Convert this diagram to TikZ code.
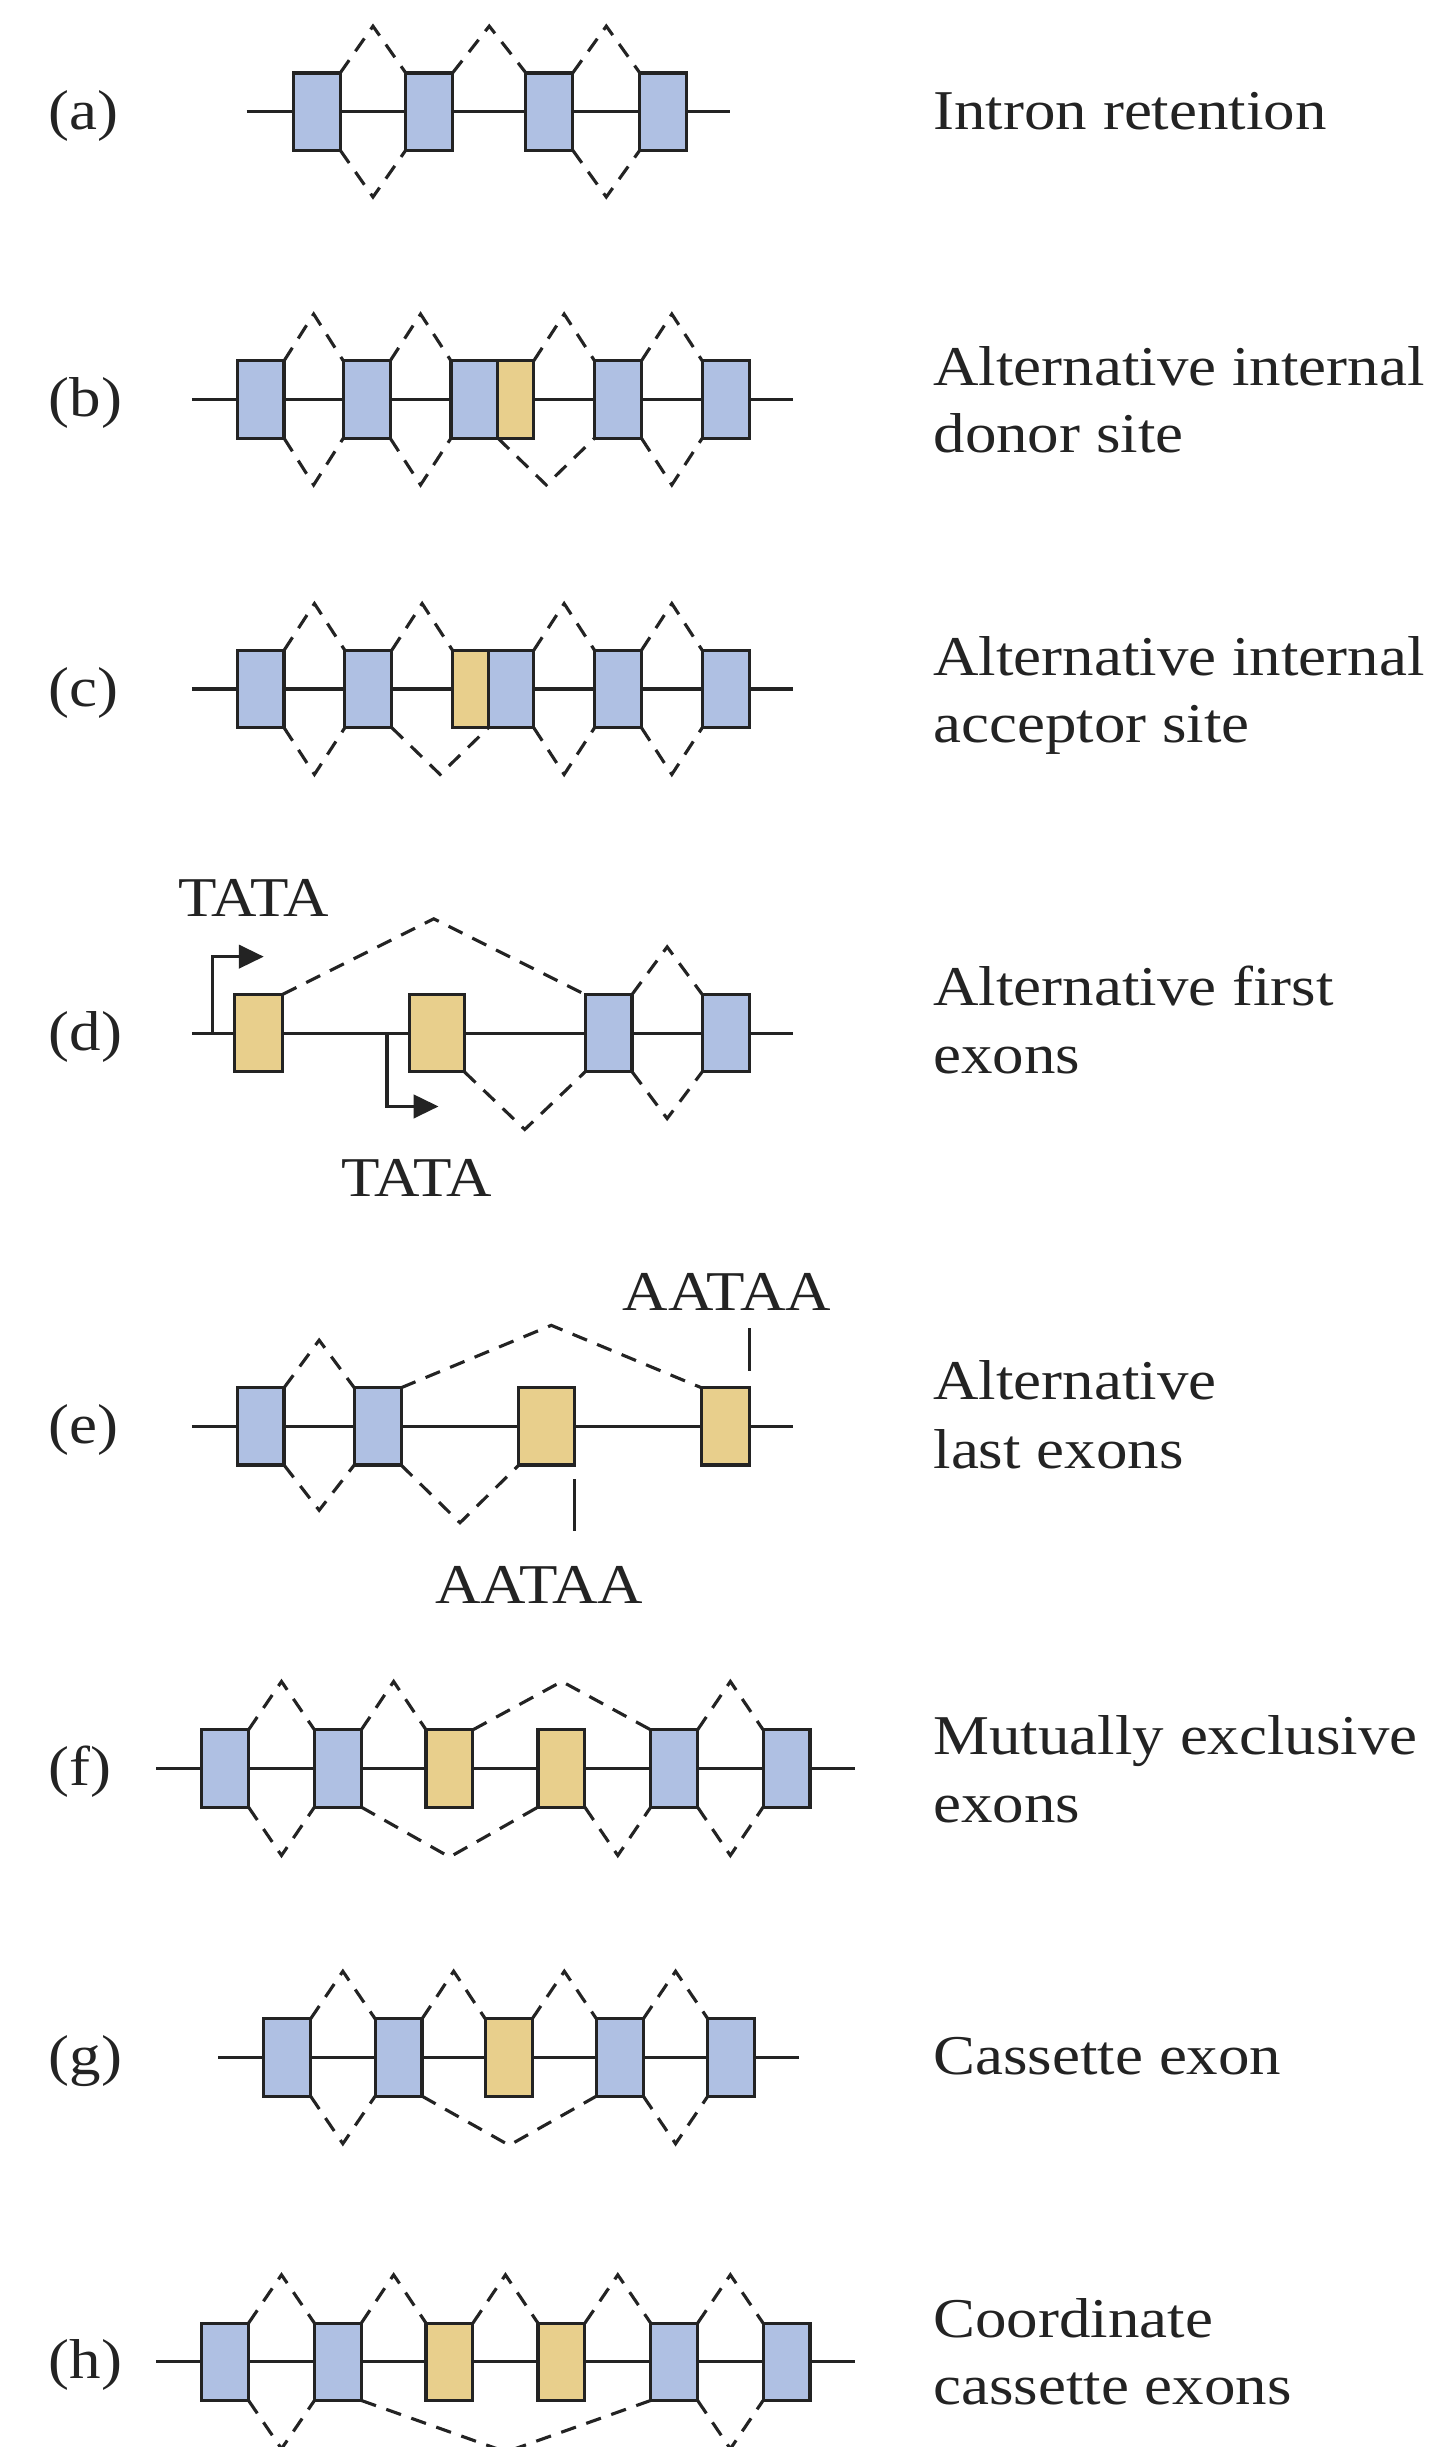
\documentclass[tikz,border=0pt]{standalone}
\usepackage{fontspec}
\setmainfont{Liberation Serif}[FakeStretch=1.12]
\usetikzlibrary{calc,arrows.meta}
\definecolor{exblue}{RGB}{175,192,227}
\definecolor{exyel}{RGB}{232,207,140}
\definecolor{ink}{RGB}{35,35,35}
\tikzset{
  exon/.style={draw=ink, line width=2pt, rectangle, inner sep=0pt, outer sep=0pt,
               minimum height=49.5pt, minimum width=30pt},
  bx/.style={exon, fill=exblue},
  yx/.style={exon, fill=exyel},
  intron/.style={draw=ink, line width=2pt},
  splice/.style={draw=ink, line width=2pt, dash pattern=on 10pt off 7pt},
  lab/.style={anchor=base west, inner sep=0pt, font=\fontsize{36}{43}\selectfont, text=ink},
  seq/.style={anchor=base, inner sep=0pt, font=\fontsize{36}{43}\selectfont, text=ink},
  tss/.style={intron, -{Triangle[length=16pt,width=15pt]}},
}
% dashed splice junction from #1 to #2, bending by #3 (negative = above)
\newcommand\spl[3]{\draw[splice] (#1) -- ($(#1)!0.5!(#2)+(0,#3)$) -- (#2);}
\begin{document}
\begin{tikzpicture}[x=1pt,y=-1pt]
\useasboundingbox (0,0) rectangle (917,1568);

% ---------------- (a) intron retention
\coordinate (aL) at (158,71.5); \coordinate (aR) at (468,71.5);
\draw[intron] (aL) -- (aR);
\node[bx] (a1) at (203,71.5) {};
\node[bx] (a2) at (275,71.5) {};
\node[bx] (a3) at (352,71.5) {};
\node[bx] (a4) at (425,71.5) {};
\spl{a1.north east}{a2.north west}{-30}
\spl{a2.north east}{a3.north west}{-30}
\spl{a3.north east}{a4.north west}{-30}
\spl{a1.south east}{a2.south west}{30}
\spl{a3.south east}{a4.south west}{30}
\node[lab] (la) at (31,83) {(a)};
\node[lab] (ta) at (598,83) {Intron retention};

% ---------------- (b) alternative internal donor site
\coordinate (bL) at (123,256); \coordinate (bR) at (508,256);
\draw[intron] (bL) -- (bR);
\node[bx] (b1) at (167,256) {};
\node[bx] (b2) at (235,256) {};
\node[bx] (b3) at (304,256) {};
\node[yx, minimum width=23pt] (b3y) at (330.5,256) {};
\node[bx] (b4) at (396,256) {};
\node[bx] (b5) at (465,256) {};
\spl{b1.north east}{b2.north west}{-30}
\spl{b2.north east}{b3.north west}{-30}
\spl{b3y.north east}{b4.north west}{-30}
\spl{b4.north east}{b5.north west}{-30}
\spl{b1.south east}{b2.south west}{30}
\spl{b2.south east}{b3.south west}{30}
\spl{b3.south east}{b4.south west}{30}
\spl{b4.south east}{b5.south west}{30}
\node[lab] (lb) at (31,267) {(b)};
\node[lab] (tb1) at (598,247) {Alternative internal};
\node[lab] (tb2) at (598,290) {donor site};

% ---------------- (c) alternative internal acceptor site
\coordinate (cL) at (123,441.5); \coordinate (cR) at (508,441.5);
\draw[intron] (cL) -- (cR);
\node[bx] (c1) at (167,441.5) {};
\node[bx] (c2) at (236,441.5) {};
\node[yx, minimum width=23pt] (c3y) at (301.5,441.5) {};
\node[bx, minimum width=29pt] (c3) at (327.5,441.5) {};
\node[bx] (c4) at (396,441.5) {};
\node[bx] (c5) at (465,441.5) {};
\spl{c1.north east}{c2.north west}{-30}
\spl{c2.north east}{c3y.north west}{-30}
\spl{c3.north east}{c4.north west}{-30}
\spl{c4.north east}{c5.north west}{-30}
\spl{c1.south east}{c2.south west}{30}
\spl{c2.south east}{c3.south west}{30}
\spl{c3.south east}{c4.south west}{30}
\spl{c4.south east}{c5.south west}{30}
\node[lab] (lc) at (31,452.5) {(c)};
\node[lab] (tc1) at (598,433) {Alternative internal};
\node[lab] (tc2) at (598,476) {acceptor site};

% ---------------- (d) alternative first exons
\coordinate (dL) at (123,662); \coordinate (dR) at (508,662);
\draw[intron] (dL) -- (dR);
\coordinate (p1) at (136.3,662); \coordinate (q1) at (169,613);
\coordinate (p2) at (248,662);   \coordinate (q2) at (281,709);
\draw[tss] (p1) |- (q1);
\draw[tss] (p2) |- (q2);
\node[yx, minimum width=31pt] (d1) at (165.5,662) {};
\node[yx, minimum width=35pt] (d2) at (280,662) {};
\node[bx] (d3) at (390,662) {};
\node[bx] (d4) at (465,662) {};
\spl{d1.north east}{d3.north west}{-48.5}
\spl{d3.north east}{d4.north west}{-30.5}
\spl{d2.south east}{d3.south west}{37}
\spl{d3.south east}{d4.south west}{30}
\node[seq] (tata1) at (162.5,587) {TATA};
\node[seq] (tata2) at (267,767) {TATA};
\node[lab] (ld) at (31,673) {(d)};
\node[lab] (td1) at (598,644) {Alternative first};
\node[lab] (td2) at (598,688) {exons};

% ---------------- (e) alternative last exons
\coordinate (eL) at (123,914); \coordinate (eR) at (508,914);
\draw[intron] (eL) -- (eR);
\node[bx] (e1) at (167,914) {};
\node[bx] (e2) at (242,914) {};
\node[yx, minimum width=35.5pt] (e3) at (350.25,914) {};
\node[yx, minimum width=31pt] (e4) at (465,914) {};
\spl{e1.north east}{e2.north west}{-30.5}
\spl{e2.north east}{e4.north west}{-40}
\spl{e1.south east}{e2.south west}{29}
\spl{e2.south east}{e3.south west}{37}
\draw[intron] (e4.north east) ++(0,-11) -- ++(0,-27);
\draw[intron] (e3.south east) ++(0,9) -- ++(0,33.5);
\node[seq] (pa1) at (465.7,839.5) {AATAA};
\node[seq] (pa2) at (345.5,1027.5) {AATAA};
\node[lab] (le) at (31,925) {(e)};
\node[lab] (te1) at (598,897) {Alternative};
\node[lab] (te2) at (598,941) {last exons};

% ---------------- (f) mutually exclusive exons
\coordinate (fL) at (100,1133.2); \coordinate (fR) at (548,1133.2);
\draw[intron] (fL) -- (fR);
\node[bx] (f1) at (144.25,1133.2) {};
\node[bx] (f2) at (216.5,1133.2) {};
\node[yx] (f3) at (288,1133.2) {};
\node[yx] (f4) at (359.75,1133.2) {};
\node[bx] (f5) at (432,1133.2) {};
\node[bx] (f6) at (504,1133.2) {};
\spl{f1.north east}{f2.north west}{-31}
\spl{f2.north east}{f3.north west}{-31}
\spl{f3.north east}{f5.north west}{-31}
\spl{f5.north east}{f6.north west}{-31}
\spl{f1.south east}{f2.south west}{31}
\spl{f2.south east}{f4.south west}{32}
\spl{f4.south east}{f5.south west}{31}
\spl{f5.south east}{f6.south west}{31}
\node[lab] (lf) at (31,1144) {(f)};
\node[lab] (tf1) at (598,1124) {Mutually exclusive};
\node[lab] (tf2) at (598,1168) {exons};

% ---------------- (g) cassette exon
\coordinate (gL) at (140,1318.4); \coordinate (gR) at (512,1318.4);
\draw[intron] (gL) -- (gR);
\node[bx] (g1) at (184,1318.4) {};
\node[bx] (g2) at (255.4,1318.4) {};
\node[yx] (g3) at (326,1318.4) {};
\node[bx] (g4) at (397.2,1318.4) {};
\node[bx] (g5) at (468.6,1318.4) {};
\spl{g1.north east}{g2.north west}{-30.5}
\spl{g2.north east}{g3.north west}{-30.5}
\spl{g3.north east}{g4.north west}{-30.5}
\spl{g4.north east}{g5.north west}{-30.5}
\spl{g1.south east}{g2.south west}{30.5}
\spl{g2.south east}{g4.south west}{31.5}
\spl{g4.south east}{g5.south west}{30.5}
\node[lab] (lg) at (31,1329) {(g)};
\node[lab] (tg) at (598,1329) {Cassette exon};

% ---------------- (h) coordinate cassette exons
\coordinate (hL) at (100,1513.4); \coordinate (hR) at (548,1513.4);
\draw[intron] (hL) -- (hR);
\node[bx] (h1) at (144.25,1513.4) {};
\node[bx] (h2) at (216.5,1513.4) {};
\node[yx] (h3) at (288,1513.4) {};
\node[yx] (h4) at (359.75,1513.4) {};
\node[bx] (h5) at (432,1513.4) {};
\node[bx] (h6) at (504,1513.4) {};
\spl{h1.north east}{h2.north west}{-31}
\spl{h2.north east}{h3.north west}{-31}
\spl{h3.north east}{h4.north west}{-31}
\spl{h4.north east}{h5.north west}{-31}
\spl{h5.north east}{h6.north west}{-31}
\spl{h1.south east}{h2.south west}{31}
\spl{h2.south east}{h5.south west}{33}
\spl{h5.south east}{h6.south west}{31}
\node[lab] (lh) at (31,1524) {(h)};
\node[lab] (th1) at (598,1498) {Coordinate};
\node[lab] (th2) at (598,1541) {cassette exons};
\end{tikzpicture}
\end{document}
